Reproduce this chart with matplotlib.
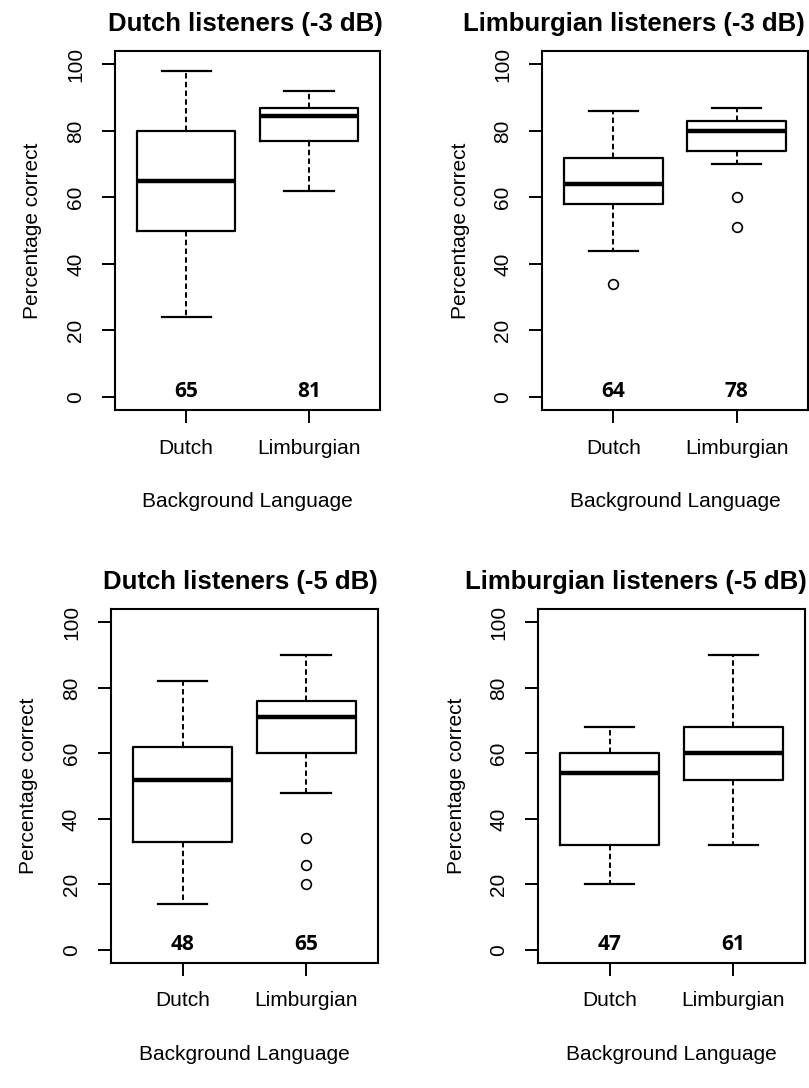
import matplotlib.pyplot as plt

groups = ['Dutch', 'Limburgian']
titles = ['Dutch listeners (-3 dB)', 'Limburgian listeners (-3 dB)',
          'Dutch listeners (-5 dB)', 'Limburgian listeners (-5 dB)']

# one entry per panel, each [Dutch, Limburgian]
whislo = [[24, 62], [44, 70], [14, 48], [20, 32]]
q1 = [[50, 77], [58, 74], [33, 60], [32, 52]]
med = [[65, 84.5], [64, 80], [52, 71], [54, 60]]
q3 = [[80, 87], [72, 83], [62, 76], [60, 68]]
whishi = [[98, 92], [86, 87], [82, 90], [68, 90]]
fliers = [[[], []], [[34], [60, 51]], [[], [34, 26, 20]], [[], []]]
means = [[65, 81], [64, 78], [48, 65], [47, 61]]

# axes rectangles (figure fraction) and title offsets
rects = [[0.142, 0.623, 0.328, 0.330],
         [0.670, 0.623, 0.329, 0.330],
         [0.137, 0.115, 0.330, 0.325],
         [0.665, 0.115, 0.330, 0.325]]
title_x = [-0.026, -0.296, -0.03, -0.274]

plt.rcParams['font.family'] = ['Liberation Sans', 'DejaVu Sans']

fig = plt.figure(figsize=(8.09, 10.88), dpi=100)

for i in range(4):
    ax = fig.add_axes(rects[i])
    stats = []
    for j in range(2):
        stats.append({'whislo': whislo[i][j], 'q1': q1[i][j], 'med': med[i][j],
                      'q3': q3[i][j], 'whishi': whishi[i][j], 'fliers': fliers[i][j]})
    ax.bxp(stats, positions=[1, 2], widths=0.8, showfliers=True,
           boxprops=dict(color='black', linewidth=1.6),
           medianprops=dict(color='black', linewidth=3.2, solid_capstyle='butt'),
           whiskerprops=dict(color='black', linewidth=1.4, linestyle=(0, (2.8, 1.7))),
           capprops=dict(color='black', linewidth=1.6),
           flierprops=dict(marker='o', markerfacecolor='none', markeredgecolor='black',
                           markersize=7, markeredgewidth=1.2))
    for j in range(2):
        ax.text(j + 1, 0, str(means[i][j]), ha='center', va='baseline',
                fontsize=15, fontweight='bold', family=['Open Sans', 'DejaVu Sans'])
    ax.set_xlim(0.42, 2.58)
    ax.set_ylim(-4, 104)
    ax.set_xticks([1, 2])
    ax.set_xticklabels(groups)
    ax.set_yticks([0, 20, 40, 60, 80, 100])
    ax.tick_params(axis='both', labelsize=15, length=9.5, width=1.4, color='black')
    ax.tick_params(axis='x', pad=11)
    ax.tick_params(axis='y', pad=12)
    plt.setp(ax.get_yticklabels(), rotation=90, va='center')
    for s in ax.spines.values():
        s.set_linewidth(1.5)
    ax.set_ylabel('Percentage correct', fontsize=15, labelpad=17)
    ax.set_xlabel('Background Language', fontsize=15, labelpad=25)
    ax.text(title_x[i], 1.056, titles[i], transform=ax.transAxes, ha='left',
            va='baseline', fontsize=18.5, fontweight='bold', clip_on=False)

fig.savefig('out.png', dpi=100)
